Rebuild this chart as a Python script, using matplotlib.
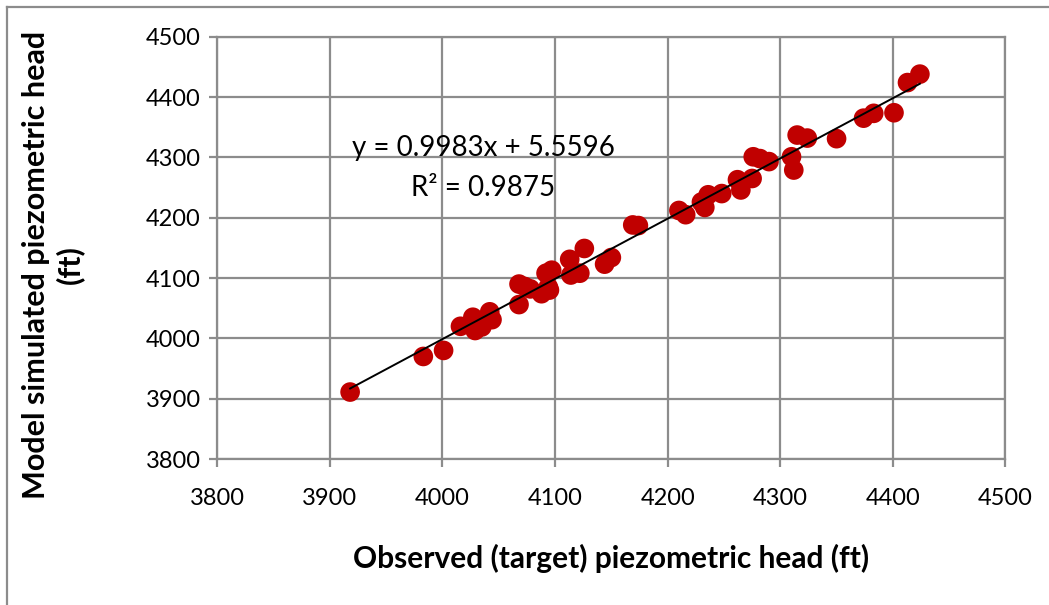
import matplotlib.pyplot as plt
from matplotlib.lines import Line2D
import numpy as np

plt.rcParams.update({
    "font.family": ["Lato", "DejaVu Sans"],
})

DOT_COLOR = "#C00000"
GRID_COLOR = "#8C8C8C"

# observed (target) vs model simulated heads, ft
observed = [3918, 3983, 4001, 4016, 4027, 4029, 4035, 4042, 4044, 4068,
            4068, 4073, 4078, 4088, 4092, 4097, 4095, 4094, 4113, 4114,
            4122, 4126, 4144, 4150, 4169, 4174, 4210, 4216, 4230, 4233,
            4236, 4248, 4262, 4265, 4275, 4276, 4282, 4290, 4310, 4312,
            4315, 4324, 4350, 4374, 4383, 4401, 4413, 4424]
simulated = [3911, 3970, 3980, 4020, 4035, 4013, 4019, 4044, 4031, 4056,
             4090, 4086, 4082, 4074, 4108, 4113, 4080, 4085, 4131, 4105,
             4108, 4149, 4123, 4134, 4188, 4187, 4212, 4205, 4226, 4217,
             4238, 4240, 4263, 4246, 4265, 4301, 4298, 4293, 4301, 4279,
             4337, 4332, 4331, 4365, 4373, 4374, 4424, 4438]

slope, intercept = 0.9983, 5.5596
r_squared = 0.9875

ticks = np.arange(3800, 4501, 100)

fig = plt.figure(figsize=(10.49, 6.05), dpi=100)
ax = fig.add_axes([0.2071, 0.2413, 0.7514, 0.698])

ax.scatter(observed, simulated, s=200, color=DOT_COLOR, edgecolors="none", zorder=3)

# linear trendline across the observed range
xl = np.array([min(observed), max(observed)])
ax.plot(xl, slope * xl + intercept, color="black", linewidth=1.4, zorder=4)

ax.set_xlim(3800, 4500)
ax.set_ylim(3800, 4500)
ax.set_xticks(ticks)
ax.set_yticks(ticks)
ax.grid(True, color=GRID_COLOR, linewidth=1.6)
ax.set_axisbelow(True)
for side in ax.spines.values():
    side.set_color(GRID_COLOR)
    side.set_linewidth(1.6)
ax.tick_params(direction="out", length=6, width=1.6, color=GRID_COLOR,
               labelsize=17)
ax.tick_params(axis="x", pad=15)
ax.tick_params(axis="y", pad=6)

ax.set_xlabel("Observed (target) piezometric head (ft)", fontsize=21.5,
              fontweight="bold", labelpad=25)
ax.set_ylabel("Model simulated piezometric head\n(ft)", fontsize=22,
              fontweight="bold", linespacing=1.2)
ax.yaxis.set_label_coords(-0.169, 0.46)

ax.text(4036, 4316, f"y = {slope}x + {intercept}", fontsize=20,
        ha="center", va="center")
ax.text(4036, 4249, f"R² = {r_squared}", fontsize=20,
        ha="center", va="center")

# frame lines of the chart area
fig.add_artist(Line2D([7 / 1049, 7 / 1049], [0, 1 - 7 / 605],
                      transform=fig.transFigure, color=GRID_COLOR, linewidth=1.6))
fig.add_artist(Line2D([7 / 1049, 1], [1 - 7 / 605, 1 - 7 / 605],
                      transform=fig.transFigure, color=GRID_COLOR, linewidth=1.6))

fig.savefig("out.png", dpi=100)
